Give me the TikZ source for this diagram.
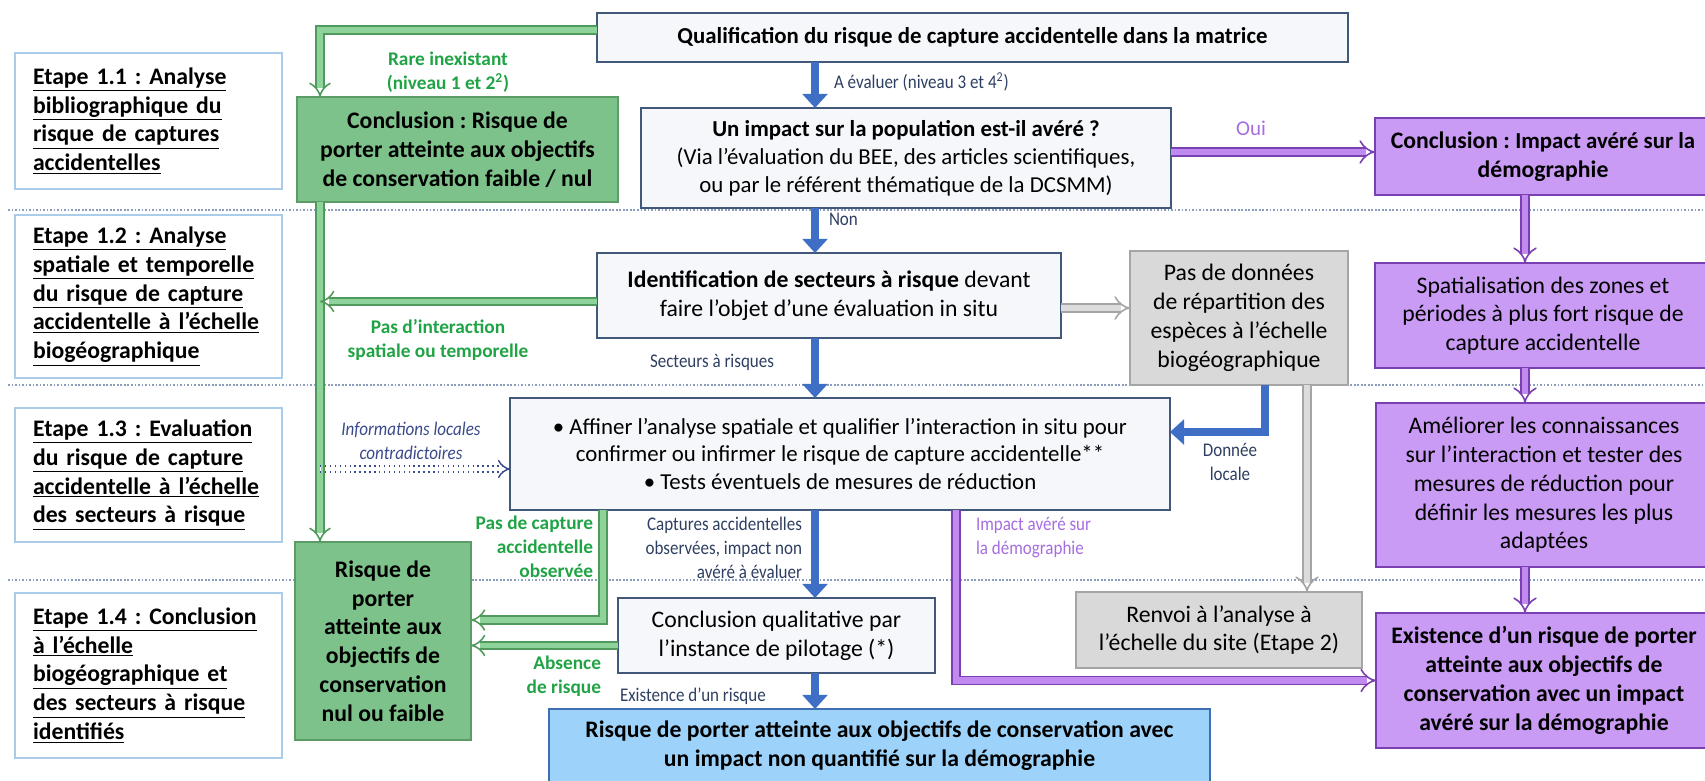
\documentclass[tikz,border=0pt]{standalone}
\usepackage{fontspec}
\setmainfont{Carlito}
\newfontfamily\narrowfont[FakeStretch=0.88]{Carlito}
\usetikzlibrary{arrows.meta,positioning}
\frenchspacing

\definecolor{boxfill}{HTML}{F5F7FA}
\definecolor{boxline}{HTML}{41587A}
\definecolor{stepblue}{HTML}{A9CCEB}
\definecolor{gfill}{HTML}{7DC28A}
\definecolor{gline}{HTML}{5B9B66}
\definecolor{gdark}{HTML}{4F9A5C}
\definecolor{glight}{HTML}{8ED39A}
\definecolor{glabel}{HTML}{1FA344}
\definecolor{arrowblue}{HTML}{3F6FC4}
\definecolor{bluetext}{HTML}{2E3F62}
\definecolor{grfill}{HTML}{D9D9D9}
\definecolor{grline}{HTML}{A5A5A5}
\definecolor{grlight}{HTML}{DCDCDC}
\definecolor{pfill}{HTML}{C99BF5}
\definecolor{pline}{HTML}{7A3FB0}
\definecolor{plight}{HTML}{C08AF0}
\definecolor{plabel}{HTML}{A56EE0}
\definecolor{bfill}{HTML}{9DD3FA}
\definecolor{bline}{HTML}{3E6FB0}
\definecolor{sepcol}{HTML}{8C9CBC}
\definecolor{dotblue}{HTML}{3A4A8A}

\newcommand{\bigtext}{\fontsize{13.5}{16.4}\selectfont}
\newcommand{\midtext}{\fontsize{13}{15.9}\selectfont}
\newcommand{\labeltext}{\fontsize{11}{13.6}\selectfont}

\begin{document}
\begin{tikzpicture}[x=0.02cm,y=-0.02cm,inner sep=0pt,outer sep=0pt,
stepbox/.style={draw=stepblue,line width=1pt,fill=white,text width=4.62cm,minimum width=5.34cm,align=left,font=\bigtext\bfseries},
textbox/.style={draw=boxline,fill=boxfill,line width=0.9pt,align=center,font=\midtext},
greenbox/.style={draw=gline,fill=gfill,line width=0.9pt,align=center,font=\bigtext\bfseries},
greybox/.style={draw=grline,fill=grfill,line width=0.9pt,align=center,font=\bigtext},
purplebox/.style={draw=pline,fill=pfill,line width=0.9pt,align=center,font=\bigtext,minimum width=6.72cm},
bluebox/.style={draw=bline,fill=bfill,line width=0.9pt,align=center,font=\bigtext\bfseries},
greenlabel/.style={text=glabel,font=\labeltext\bfseries,align=center},
bluelabel/.style={text=bluetext,font=\labeltext\narrowfont,align=center},
purplelabel/.style={text=plabel,font=\labeltext\narrowfont,align=left},
bluearrow/.style={draw=arrowblue,line width=4.5pt,-{Triangle[length=8pt,width=14pt]}},
greenarrow/.style={draw=gdark,double=glight,double distance=3.4pt,line width=0.9pt,-{Implies}},
greyarrow/.style={draw=grline,double=grlight,double distance=3.8pt,line width=0.9pt,-{Implies}},
purplearrow/.style={draw=pline,double=plight,double distance=3.8pt,line width=0.9pt,-{Implies}},
dotarrow/.style={draw=dotblue,double=white,double distance=2.8pt,line width=0.8pt,dotted,-{Implies}},
sepline/.style={draw=sepcol,line width=0.6pt,dash pattern=on 1pt off 1pt}]

\useasboundingbox (0,0) rectangle (1705,781);

\draw[sepline] (8,210) -- (1705,210);
\draw[sepline] (8,385) -- (1705,385);
\draw[sepline] (8,580) -- (1705,580);

\draw (148.5,121) node[stepbox,minimum height=2.72cm] (step11) {\underline{Etape 1.1 : Analyse}\\\underline{bibliographique du}\\\underline{risque de captures}\\\underline{accidentelles}};
\draw (148.5,296.5) node[stepbox,minimum height=3.26cm] (step12) {\underline{Etape 1.2 : Analyse}\\\underline{spatiale et temporelle}\\\underline{du risque de capture}\\\underline{accidentelle à l’échelle}\\\underline{biogéographique}};
\draw (148.5,475) node[stepbox,minimum height=2.68cm] (step13) {\underline{Etape 1.3 : Evaluation}\\\underline{du risque de capture}\\\underline{accidentelle à l’échelle}\\\underline{des secteurs à risque}};
\draw (148.5,675.5) node[stepbox,minimum height=3.3cm] (step14) {\underline{Etape 1.4 : Conclusion}\\\underline{à l’échelle}\\\underline{biogéographique et}\\\underline{des secteurs à risque}\\\underline{identifiés}};

\draw (972.5,37.5) node[textbox,minimum width=15.02cm,minimum height=0.98cm,font=\midtext\bfseries] (qual) {Qualification du risque de capture accidentelle dans la matrice};
\draw (906,158) node[textbox,minimum width=10.6cm,minimum height=2cm] (impact) {\textbf{Un impact sur la population est-il avéré ?}\\(Via l’évaluation du BEE, des articles scientifiques,\\ou par le référent thématique de la DCSMM)};
\draw (457.5,149.5) node[greenbox,minimum width=6.42cm,minimum height=2.1cm] (lowrisk) {Conclusion : Risque de\\porter atteinte aux objectifs\\de conservation faible / nul};
\draw (1543,156.5) node[purplebox,minimum height=1.54cm] (proven) {\textbf{Conclusion :} {\midtext\bfseries Impact avéré sur la}\\\textbf{démographie}};
\draw (829,295.5) node[textbox,minimum width=9.28cm,minimum height=1.7cm,font=\bigtext] (sectors) {\textbf{Identification de secteurs à risque} devant\\faire l’objet d’une évaluation in situ};
\draw (1239,318) node[greybox,minimum width=4.36cm,minimum height=2.68cm] (nodata) {Pas de données\\de répartition des\\espèces à l’échelle\\biogéographique};
\draw (1543,315.5) node[purplebox,minimum height=2.1cm] (mapping) {Spatialisation des zones et\\périodes à plus fort risque de\\capture accidentelle};
\draw (840,454) node[textbox,minimum width=13.2cm,minimum height=2.24cm] (refine) {• Affiner l’analyse spatiale et qualifier l’interaction in situ pour\\confirmer ou infirmer le risque de capture accidentelle**\\• Tests éventuels de mesures de réduction};
\draw (1544,485) node[purplebox,minimum height=3.28cm] (improve) {Améliorer les connaissances\\sur l’interaction et tester des\\mesures de réduction pour\\définir les mesures les plus\\adaptées};
\draw (383,641) node[greenbox,minimum width=3.52cm,minimum height=3.96cm] (lowrisk2) {Risque de\\porter\\atteinte aux\\objectifs de\\conservation\\nul ou faible};
\draw (776.5,635.5) node[textbox,minimum width=6.34cm,minimum height=1.5cm,font=\bigtext] (verdict) {Conclusion qualitative par\\l’instance de pilotage (*)};
\draw (1219,630) node[greybox,minimum width=5.72cm,minimum height=1.52cm] (sitestep) {Renvoi à l’analyse à\\l’échelle du site (Etape 2)};
\draw (1544,680.5) node[purplebox,minimum height=2.7cm,font=\bigtext\bfseries] (highrisk) {Existence d’un risque de porter\\atteinte aux objectifs de\\conservation avec un impact\\avéré sur la démographie};
\draw (879.5,745.5) node[bluebox,minimum width=13.22cm,minimum height=1.46cm] (unquant) {Risque de porter atteinte aux objectifs de conservation avec\\un impact non quantifié sur la démographie};

\coordinate (trunk) at (320,0);
\coordinate (spine) at (815,0);
\coordinate (nocatch) at (603,0);
\coordinate (impactx) at (956,0);
\coordinate (localx) at (1265,0);
\coordinate (sitex) at (1307,0);
\coordinate (purx) at (1525,0);

\draw[greenarrow] ([yshift=0.15cm]qual.west) -| (lowrisk.north -| trunk);
\draw[greenarrow] (lowrisk.south -| trunk) -- (lowrisk2.north -| trunk);
\draw[greenarrow] ([yshift=-0.12cm]sectors.west) -- ([yshift=-0.12cm]sectors.west -| trunk);
\draw[dotarrow] ([yshift=-0.3cm]refine.west -| trunk) -- ([yshift=-0.3cm]refine.west);
\draw[greenarrow] (refine.south -| nocatch) |- ([yshift=0.42cm]lowrisk2.east);
\draw[greenarrow] ([yshift=-0.2cm]verdict.west) -- ([yshift=-0.2cm]verdict.west -| lowrisk2.east);

\draw[bluearrow] (qual.south -| spine) -- (impact.north -| spine);
\draw[bluearrow] (impact.south -| spine) -- (sectors.north -| spine);
\draw[bluearrow] (sectors.south -| spine) -- (refine.north -| spine);
\draw[bluearrow] (refine.south -| spine) -- (verdict.north -| spine);
\draw[bluearrow] (verdict.south -| spine) -- (unquant.north -| spine);
\draw[bluearrow] (nodata.south -| localx) |- ([yshift=0.44cm]refine.east);

\draw[greyarrow] ([yshift=-0.25cm]sectors.east) -- ([yshift=-0.25cm]sectors.east -| nodata.west);
\draw[greyarrow] (nodata.south -| sitex) -- (sitestep.north -| sitex);

\draw[purplearrow] ([yshift=0.12cm]impact.east) -- ([yshift=0.12cm]impact.east -| proven.west);
\draw[purplearrow] (proven.south -| purx) -- (mapping.north -| purx);
\draw[purplearrow] (mapping.south -| purx) -- (improve.north -| purx);
\draw[purplearrow] (improve.south -| purx) -- (highrisk.north -| purx);
\draw[purplearrow] (refine.south -| impactx) |- (highrisk.west);

\draw (448,72) node[greenlabel] (rarelbl) {Rare inexistant\\(niveau 1 et 2\textsuperscript{2})};
\draw (438,340) node[greenlabel] (nolinklbl) {Pas d’interaction\\spatiale ou temporelle};
\draw (593,547) node[greenlabel,anchor=east,align=right] (nocatchlbl) {Pas de capture\\accidentelle\\observée};
\draw (601,676) node[greenlabel,anchor=east,align=right] (norisklbl) {Absence\\de risque};
\draw (834,82) node[bluelabel,anchor=west] (assesslbl) {A évaluer (niveau 3 et 4\textsuperscript{2})};
\draw (829,219) node[bluelabel,anchor=west] (nonlbl) {Non};
\draw (712,362) node[bluelabel] (sectorlbl) {Secteurs à risques};
\draw (802,548) node[bluelabel,anchor=east,align=right] (catchlbl) {Captures accidentelles\\observées, impact non\\avéré à évaluer};
\draw (620,696) node[bluelabel,anchor=west] (risklbl) {Existence d’un risque};
\draw (1230,462) node[bluelabel] (locallbl) {Donnée\\locale};
\draw (1251,128) node[purplelabel,font=\fontsize{12}{14}\selectfont] (ouilbl) {Oui};
\draw (976,538) node[purplelabel,anchor=west] (impactlbl) {Impact avéré sur\\la démographie};
\draw (411,441) node[bluelabel,font=\labeltext\narrowfont\itshape,text=dotblue] (infolbl) {Informations locales\\contradictoires};

\end{tikzpicture}
\end{document}
